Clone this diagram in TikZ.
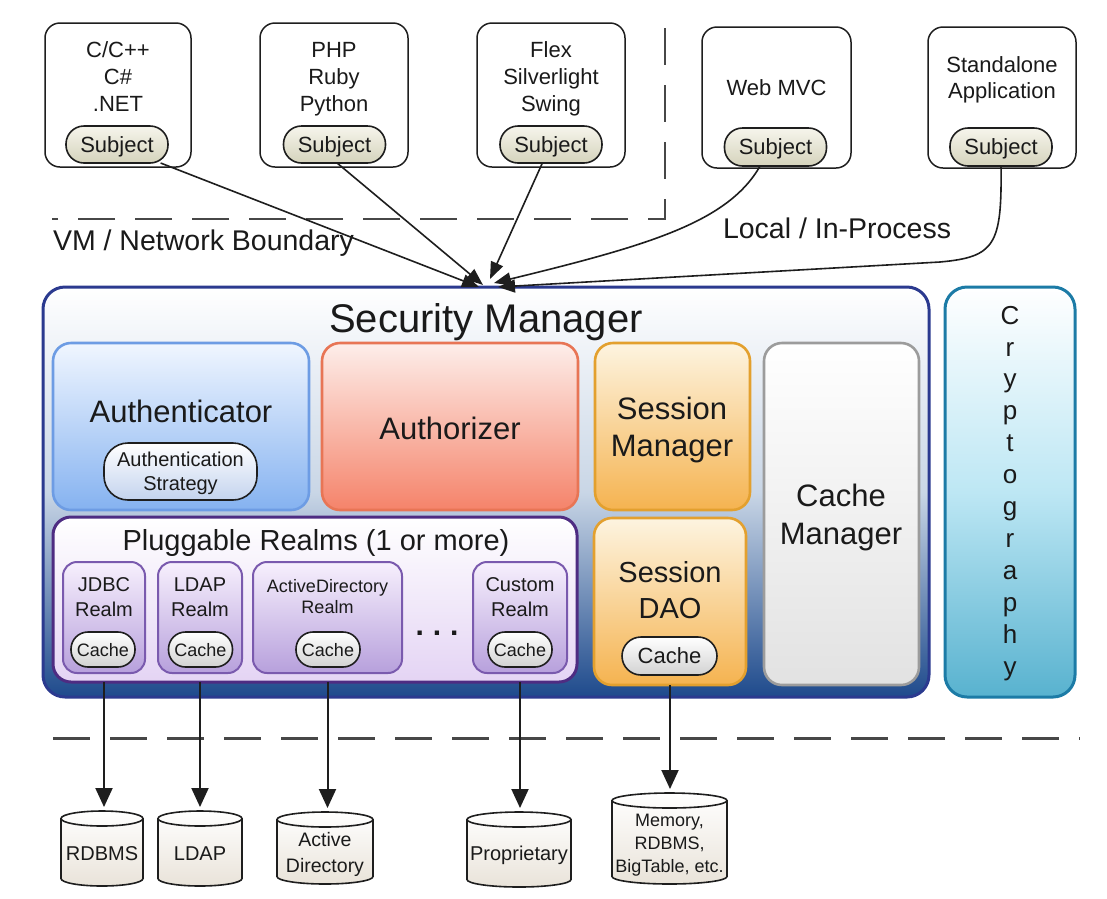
\documentclass[tikz,border=0pt]{standalone}
\usepackage{fontspec}
\setmainfont{Liberation Sans}
\usetikzlibrary{arrows.meta,shapes.geometric}
\definecolor{txt}{HTML}{1A1A1A}
\definecolor{lineK}{HTML}{1E1E1E}
\definecolor{subjT}{HTML}{F6F5EC}
\definecolor{subjB}{HTML}{D5D3BC}
\definecolor{smB}{HTML}{2B3A8F}
\definecolor{smMid}{HTML}{C9D6E6}
\definecolor{smBot}{HTML}{1E4A8C}
\definecolor{acB}{HTML}{6D9CE4}
\definecolor{acT}{HTML}{F0F6FF}
\definecolor{acBot}{HTML}{85B2F0}
\definecolor{azB}{HTML}{E87555}
\definecolor{azT}{HTML}{FDEEEA}
\definecolor{azBot}{HTML}{F5836A}
\definecolor{snB}{HTML}{E3A02E}
\definecolor{snT}{HTML}{FDF4E0}
\definecolor{snBot}{HTML}{F5B350}
\definecolor{cmB}{HTML}{9C9C9C}
\definecolor{cmBot}{HTML}{E2E2E2}
\definecolor{rsB}{HTML}{4E2C82}
\definecolor{rsBot}{HTML}{E4D4F4}
\definecolor{rlB}{HTML}{7A5AAE}
\definecolor{rlT}{HTML}{F7F0FD}
\definecolor{rlBot}{HTML}{B7A0DC}
\definecolor{crB}{HTML}{1C7BA6}
\definecolor{crMid}{HTML}{BDE7F4}
\definecolor{crBot}{HTML}{58B2CF}
\definecolor{stBot}{HTML}{C3D3EE}
\definecolor{cyBot}{HTML}{E9E3D9}
\definecolor{chBot}{HTML}{D2D2D2}
% data-store cylinder: name, cx, cy, width, height
\newcommand{\dbcyl}[5]{%
  \node[minimum width=#4pt, minimum height=#5pt] (#1) at (#2,#3) {};
  \path[dbline, top color=white, bottom color=cyBot]
    ([yshift=-7.5pt]#1.north west) -- ([yshift=7.5pt]#1.south west)
    arc[start angle=180, end angle=360, x radius=#4pt/2, y radius=7.5pt]
    -- ([yshift=-7.5pt]#1.north east)
    arc[start angle=0, end angle=180, x radius=#4pt/2, y radius=7.5pt] -- cycle;
  \draw[dbline] ([yshift=-7.5pt]#1.north west)
    arc[start angle=180, end angle=360, x radius=#4pt/2, y radius=7.5pt];
}
\begin{document}
\begin{tikzpicture}[x=1pt,y=-1pt,
  every node/.style={inner sep=0pt, outer sep=0pt, text=txt},
  fs/.style 2 args={font=\fontsize{#1}{#2}\selectfont},
  topbox/.style={draw=lineK, line width=1.5pt, rounded corners=15pt, fill=white},
  pillbase/.style={draw=lineK, line width=1.6pt, text depth=0pt},
  subj/.style={pillbase, rounded corners=18pt, top color=subjT, bottom color=subjB, minimum width=102pt, minimum height=37pt, fs={22}{26}},
  cachepill/.style={pillbase, rounded corners=17pt, top color=white, bottom color=chBot, minimum width=64pt, minimum height=35pt, fs={18}{20}},
  panel/.style={line width=2.6pt, rounded corners=18pt},
  realm/.style={draw=rlB, line width=2pt, rounded corners=14pt, top color=rlT, bottom color=rlBot, minimum width=#1, minimum height=111pt},
  dbline/.style={draw=lineK, line width=1.6pt},
  arr/.style={line width=1.6pt, draw=lineK, -{Triangle[length=17pt,width=13pt]}},
  darr/.style={line width=2pt, draw=lineK, shorten >=4pt, -{Triangle[length=19pt,width=17pt]}},
  bound/.style={line width=2.2pt, draw=black!72, dash pattern=on 37pt off 20pt},
  lbl/.style={align=center, anchor=north}
]
\useasboundingbox (0,0) rectangle (1107,898);
\fill[white] (0,0) rectangle (1107,898);

% boundaries
\draw[bound] (665,28) -- (665,219) -- (52,219);
\draw[bound] (53,738.5) -- (1080,738.5);
\node[fs={28.5}{30}, anchor=base west] (vm) at (53,250) {VM / Network Boundary};
\node[fs={28.5}{30}, anchor=base west] (lp) at (723,238) {Local / In-Process};

% client boxes
\node[topbox, minimum width=146pt, minimum height=144pt] (b1) at (118,95) {};
\node[topbox, minimum width=148pt, minimum height=144pt] (b2) at (334,95) {};
\node[topbox, minimum width=148pt, minimum height=144pt] (b3) at (551,95) {};
\node[topbox, minimum width=149pt, minimum height=141pt] (b4) at (776.5,97.5) {};
\node[topbox, minimum width=148pt, minimum height=141pt] (b5) at (1002,97.5) {};
\node[fs={22}{27}, lbl] (l1) at (118,42) {C/C++\\C\#\\.NET};
\node[fs={22}{27}, lbl] (l2) at (334,42) {PHP\\Ruby\\Python};
\node[fs={22}{27}, lbl] (l3) at (551,42) {Flex\\Silverlight\\Swing};
\node[fs={22}{26}, anchor=base] (l4) at (776.5,95) {Web MVC};
\node[fs={22}{26}, lbl] (l5) at (1002,57) {Standalone\\Application};
\node[subj] (p1) at (117,144.5) {Subject};
\node[subj] (p2) at (334.5,144.5) {Subject};
\node[subj] (p3) at (551,144.5) {Subject};
\node[subj, minimum height=38pt] (p4) at (775.5,147) {Subject};
\node[subj, minimum height=38pt] (p5) at (1001,147) {Subject};

% security manager
\node[draw=smB, line width=3pt, rounded corners=22pt, top color=white, bottom color=smBot, middle color=smMid, minimum width=886pt, minimum height=410pt] (sm) at (486,492) {};
\node[fs={40}{44}, anchor=base] (smt) at (486,332) {Security Manager};

\node[panel, draw=acB, top color=acT, bottom color=acBot, minimum width=256pt, minimum height=167pt] (authc) at (181,426.5) {};
\node[fs={31}{36}, anchor=base] (authct) at (181,422) {Authenticator};
\node[pillbase, rounded corners=24pt, top color=white, bottom color=stBot, minimum width=153pt, minimum height=57pt, fs={20}{24}, align=center] (strat) at (180.5,471.5) {Authentication\\Strategy};

\node[panel, draw=azB, top color=azT, bottom color=azBot, minimum width=256pt, minimum height=167pt] (authz) at (450,426.5) {};
\node[fs={31}{36}, anchor=base] (authzt) at (450,439) {Authorizer};

\node[panel, draw=snB, top color=snT, bottom color=snBot, minimum width=155pt, minimum height=167pt] (sman) at (672.5,426.5) {};
\node[fs={31}{37}, lbl] (smant) at (672,397.4) {Session\\Manager};

\node[panel, draw=cmB, top color=white, bottom color=cmBot, minimum width=155pt, minimum height=342pt] (cman) at (841.5,514) {};
\node[fs={31}{38}, lbl] (cmant) at (841,484.4) {Cache\\Manager};

\node[panel, draw=snB, top color=snT, bottom color=snBot, minimum width=152pt, minimum height=167pt] (dao) at (670,601.5) {};
\node[fs={29}{36}, lbl] (daot) at (670,561) {Session\\DAO};
\node[cachepill, rounded corners=19pt, minimum width=95pt, minimum height=38pt, fs={22}{24}] (daoc) at (669.5,656) {Cache};

% realms
\node[draw=rsB, line width=3pt, rounded corners=18pt, top color=white, bottom color=rsBot, minimum width=524pt, minimum height=165pt] (realms) at (315,599.5) {};
\node[fs={29}{32}, anchor=base] (realmst) at (316,550) {Pluggable Realms (1 or more)};
\node[realm=82pt] (jdbc) at (104,617.5) {};
\node[realm=84pt] (ldapr) at (200,617.5) {};
\node[realm=149pt] (adr) at (327.5,617.5) {};
\node[realm=94pt] (custr) at (520,617.5) {};
\node[fs={20}{25}, lbl] (jdbct) at (104,577.4) {JDBC\\Realm};
\node[fs={20}{25}, lbl] (ldapt) at (200,577.4) {LDAP\\Realm};
\node[fs={18}{21}, lbl] (adt) at (327.5,579) {ActiveDirectory\\Realm};
\node[fs={20}{25}, lbl] (custt) at (520,577.4) {Custom\\Realm};
\node[cachepill] (c1) at (103,649.5) {Cache};
\node[cachepill] (c2) at (200.5,649.5) {Cache};
\node[cachepill] (c3) at (328,649.5) {Cache};
\node[cachepill] (c4) at (520,649.5) {Cache};
\node[font=\fontsize{30}{30}\selectfont\bfseries] (dots) at (437,633) {.\hspace{9pt}.\hspace{9pt}.};

% cryptography
\node[draw=crB, line width=3pt, rounded corners=22pt, top color=white, bottom color=crBot, middle color=crMid, minimum width=130pt, minimum height=410pt] (crypto) at (1010,492) {};
\node[fs={26}{31.9}, lbl] (cryptot) at (1010,306) {C\\r\\y\\p\\t\\o\\g\\r\\a\\p\\h\\y};

% data stores
\dbcyl{rdbms}{102}{848.5}{82}{75}
\dbcyl{ldap}{200}{848.5}{84}{75}
\dbcyl{adc}{325}{848}{96}{72}
\dbcyl{prop}{519}{849.5}{104}{75}
\dbcyl{mem}{669.5}{838.5}{115}{91}
\node[fs={20}{24}, anchor=base] (rdbmst) at (102,860) {RDBMS};
\node[fs={20}{24}, anchor=base] (ldapct) at (200,860) {LDAP};
\node[fs={19.5}{26}, lbl] (adct) at (325,832.8) {Active\\Directory};
\node[fs={20}{24}, anchor=base] (propt) at (519,860) {Proprietary};
\node[fs={18}{23}, lbl] (memt) at (669.5,813.9) {Memory,\\RDBMS,\\BigTable, etc.};

% arrows into security manager
\coordinate (tipA) at (479,287);
\coordinate (tipB) at (483,285);
\coordinate (tipC) at (490,279);
\coordinate (tipD) at (494,283);
\coordinate (tipE) at (498,287);
\draw[arr] (p1.-23) -- (tipA);
\draw[arr] (p2.-82) -- (tipB);
\draw[arr] (p3.-115) -- (tipC);
\draw[arr] (p4.-129) .. controls (728,222) and (650,245) .. (tipD);
\draw[arr] (p5.south) .. controls (1002,245) and (995,257) .. (940,262) -- (tipE);

% arrows to data stores
\draw[darr] (jdbc.south |- realms.south) -- (jdbc.south |- rdbms.north);
\draw[darr] (ldapr.south |- realms.south) -- (ldapr.south |- ldap.north);
\draw[darr] (adr.south |- realms.south) -- (adr.south |- adc.north);
\draw[darr] (custr.south |- realms.south) -- (custr.south |- prop.north);
\draw[darr] (dao.south) -- (dao.south |- mem.north);
\end{tikzpicture}
\end{document}
